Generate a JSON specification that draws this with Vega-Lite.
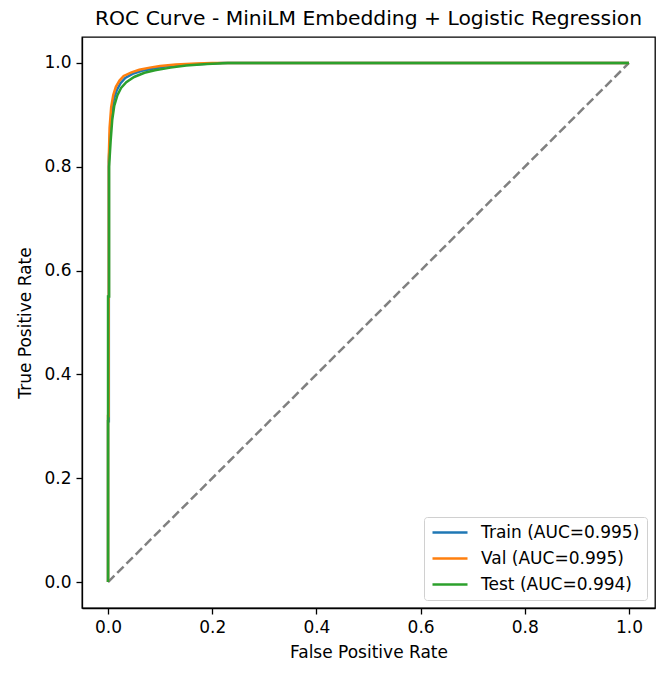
{
  "$schema": "https://vega.github.io/schema/vega-lite/v6.json",
  "width": 573,
  "height": 571,
  "autosize": "none",
  "padding": {"left": 82, "top": 37, "right": 11, "bottom": 65},
  "background": "white",
  "title": {"text": "ROC Curve - MiniLM Embedding + Logistic Regression", "font": "DejaVu Sans", "fontSize": 20.3, "fontWeight": "normal", "color": "black", "anchor": "middle", "offset": 8},
  "config": {
    "view": {"stroke": "black", "strokeWidth": 1.3},
    "axis": {"grid": false, "domainColor": "black", "domainWidth": 1.3, "tickColor": "black", "tickSize": 6, "tickWidth": 1.3, "labelFont": "DejaVu Sans", "labelFontSize": 17, "labelColor": "black", "labelPadding": 5, "titleFont": "DejaVu Sans", "titleFontSize": 17, "titleFontWeight": "normal", "titleColor": "black", "titlePadding": 9},
    "legend": {"orient": "bottom-right", "offset": 8, "strokeColor": "#d0d0d0", "fillColor": "white", "cornerRadius": 3, "padding": 7, "labelFont": "DejaVu Sans", "labelFontSize": 17, "labelColor": "black", "symbolType": "M-1,0H4", "symbolSize": 196, "symbolStrokeWidth": 2.5, "labelOffset": 33, "rowPadding": 8, "title": null}
  },
  "datasets": {
    "roc": [
      {"series": "Train (AUC=0.995)", "i": 0, "fpr": 0.0, "tpr": 0.0},
      {"series": "Train (AUC=0.995)", "i": 1, "fpr": 0.0, "tpr": 0.31},
      {"series": "Train (AUC=0.995)", "i": 2, "fpr": 0.0015, "tpr": 0.31},
      {"series": "Train (AUC=0.995)", "i": 3, "fpr": 0.0015, "tpr": 0.81},
      {"series": "Train (AUC=0.995)", "i": 4, "fpr": 0.004, "tpr": 0.865},
      {"series": "Train (AUC=0.995)", "i": 5, "fpr": 0.007, "tpr": 0.905},
      {"series": "Train (AUC=0.995)", "i": 6, "fpr": 0.011, "tpr": 0.93},
      {"series": "Train (AUC=0.995)", "i": 7, "fpr": 0.017, "tpr": 0.948},
      {"series": "Train (AUC=0.995)", "i": 8, "fpr": 0.024, "tpr": 0.961},
      {"series": "Train (AUC=0.995)", "i": 9, "fpr": 0.033, "tpr": 0.971},
      {"series": "Train (AUC=0.995)", "i": 10, "fpr": 0.047, "tpr": 0.979},
      {"series": "Train (AUC=0.995)", "i": 11, "fpr": 0.065, "tpr": 0.985},
      {"series": "Train (AUC=0.995)", "i": 12, "fpr": 0.085, "tpr": 0.989},
      {"series": "Train (AUC=0.995)", "i": 13, "fpr": 0.11, "tpr": 0.993},
      {"series": "Train (AUC=0.995)", "i": 14, "fpr": 0.14, "tpr": 0.996},
      {"series": "Train (AUC=0.995)", "i": 15, "fpr": 0.18, "tpr": 0.998},
      {"series": "Train (AUC=0.995)", "i": 16, "fpr": 0.22, "tpr": 1.0},
      {"series": "Train (AUC=0.995)", "i": 17, "fpr": 1.0, "tpr": 1.0},
      {"series": "Val (AUC=0.995)", "i": 0, "fpr": 0.0, "tpr": 0.0},
      {"series": "Val (AUC=0.995)", "i": 1, "fpr": 0.0, "tpr": 0.32},
      {"series": "Val (AUC=0.995)", "i": 2, "fpr": 0.001, "tpr": 0.32},
      {"series": "Val (AUC=0.995)", "i": 3, "fpr": 0.001, "tpr": 0.55},
      {"series": "Val (AUC=0.995)", "i": 4, "fpr": 0.0015, "tpr": 0.55},
      {"series": "Val (AUC=0.995)", "i": 5, "fpr": 0.0015, "tpr": 0.82},
      {"series": "Val (AUC=0.995)", "i": 6, "fpr": 0.003, "tpr": 0.875},
      {"series": "Val (AUC=0.995)", "i": 7, "fpr": 0.006, "tpr": 0.915},
      {"series": "Val (AUC=0.995)", "i": 8, "fpr": 0.01, "tpr": 0.938},
      {"series": "Val (AUC=0.995)", "i": 9, "fpr": 0.015, "tpr": 0.954},
      {"series": "Val (AUC=0.995)", "i": 10, "fpr": 0.022, "tpr": 0.966},
      {"series": "Val (AUC=0.995)", "i": 11, "fpr": 0.03, "tpr": 0.975},
      {"series": "Val (AUC=0.995)", "i": 12, "fpr": 0.045, "tpr": 0.982},
      {"series": "Val (AUC=0.995)", "i": 13, "fpr": 0.06, "tpr": 0.987},
      {"series": "Val (AUC=0.995)", "i": 14, "fpr": 0.08, "tpr": 0.991},
      {"series": "Val (AUC=0.995)", "i": 15, "fpr": 0.1, "tpr": 0.994},
      {"series": "Val (AUC=0.995)", "i": 16, "fpr": 0.13, "tpr": 0.997},
      {"series": "Val (AUC=0.995)", "i": 17, "fpr": 0.17, "tpr": 0.999},
      {"series": "Val (AUC=0.995)", "i": 18, "fpr": 0.2, "tpr": 1.0},
      {"series": "Val (AUC=0.995)", "i": 19, "fpr": 1.0, "tpr": 1.0},
      {"series": "Test (AUC=0.994)", "i": 0, "fpr": 0.0, "tpr": 0.0},
      {"series": "Test (AUC=0.994)", "i": 1, "fpr": 0.0, "tpr": 0.55},
      {"series": "Test (AUC=0.994)", "i": 2, "fpr": 0.002, "tpr": 0.55},
      {"series": "Test (AUC=0.994)", "i": 3, "fpr": 0.002, "tpr": 0.80},
      {"series": "Test (AUC=0.994)", "i": 4, "fpr": 0.005, "tpr": 0.85},
      {"series": "Test (AUC=0.994)", "i": 5, "fpr": 0.008, "tpr": 0.89},
      {"series": "Test (AUC=0.994)", "i": 6, "fpr": 0.012, "tpr": 0.918},
      {"series": "Test (AUC=0.994)", "i": 7, "fpr": 0.018, "tpr": 0.938},
      {"series": "Test (AUC=0.994)", "i": 8, "fpr": 0.025, "tpr": 0.952},
      {"series": "Test (AUC=0.994)", "i": 9, "fpr": 0.035, "tpr": 0.963},
      {"series": "Test (AUC=0.994)", "i": 10, "fpr": 0.05, "tpr": 0.973},
      {"series": "Test (AUC=0.994)", "i": 11, "fpr": 0.07, "tpr": 0.981},
      {"series": "Test (AUC=0.994)", "i": 12, "fpr": 0.09, "tpr": 0.986},
      {"series": "Test (AUC=0.994)", "i": 13, "fpr": 0.12, "tpr": 0.991},
      {"series": "Test (AUC=0.994)", "i": 14, "fpr": 0.15, "tpr": 0.995},
      {"series": "Test (AUC=0.994)", "i": 15, "fpr": 0.19, "tpr": 0.998},
      {"series": "Test (AUC=0.994)", "i": 16, "fpr": 0.23, "tpr": 1.0},
      {"series": "Test (AUC=0.994)", "i": 17, "fpr": 1.0, "tpr": 1.0}
    ],
    "diag": [{"fpr": 0, "tpr": 0}, {"fpr": 1, "tpr": 1}]
  },
  "encoding": {
    "x": {"field": "fpr", "type": "quantitative", "title": "False Positive Rate", "scale": {"domain": [-0.05, 1.05], "nice": false, "zero": false}, "axis": {"values": [0, 0.2, 0.4, 0.6, 0.8, 1.0], "format": ".1f"}},
    "y": {"field": "tpr", "type": "quantitative", "title": "True Positive Rate", "scale": {"domain": [-0.05, 1.05], "nice": false, "zero": false}, "axis": {"values": [0, 0.2, 0.4, 0.6, 0.8, 1.0], "format": ".1f"}}
  },
  "layer": [
    {"data": {"name": "diag"}, "mark": {"type": "line", "color": "#808080", "strokeWidth": 2.5, "strokeDash": [9, 4]}},
    {"data": {"name": "roc"}, "transform": [{"filter": "datum.series === 'Train (AUC=0.995)'"}], "mark": {"type": "line", "strokeWidth": 2.5}, "encoding": {"order": {"field": "i"}, "color": {"field": "series", "type": "nominal", "scale": {"domain": ["Train (AUC=0.995)", "Val (AUC=0.995)", "Test (AUC=0.994)"], "range": ["#1f77b4", "#ff7f0e", "#2ca02c"]}}}},
    {"data": {"name": "roc"}, "transform": [{"filter": "datum.series === 'Val (AUC=0.995)'"}], "mark": {"type": "line", "strokeWidth": 2.5}, "encoding": {"order": {"field": "i"}, "color": {"field": "series", "type": "nominal"}}},
    {"data": {"name": "roc"}, "transform": [{"filter": "datum.series === 'Test (AUC=0.994)'"}], "mark": {"type": "line", "strokeWidth": 2.5}, "encoding": {"order": {"field": "i"}, "color": {"field": "series", "type": "nominal"}}}
  ]
}
